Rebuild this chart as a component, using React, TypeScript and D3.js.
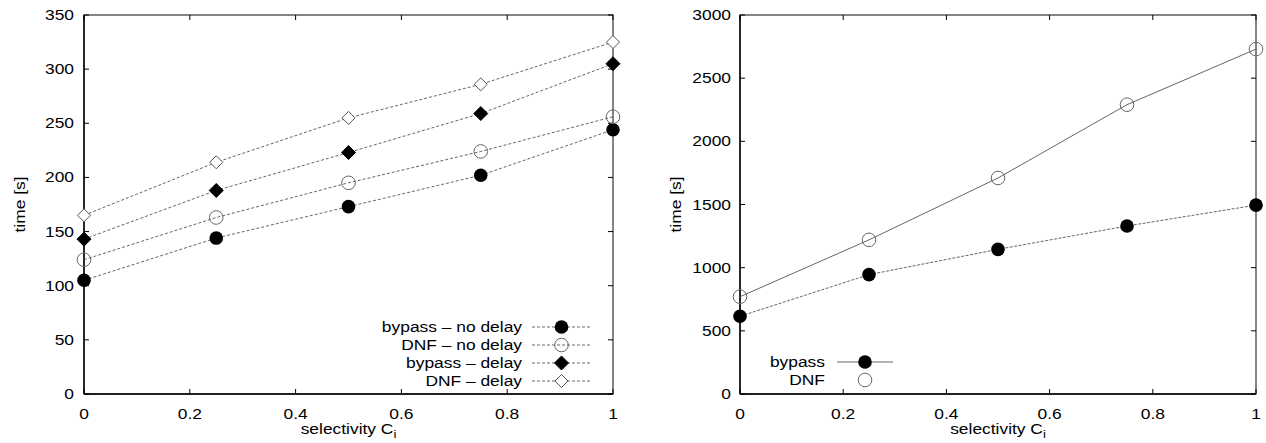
import React, { useRef, useEffect } from 'react';
import * as d3 from 'd3';

// x positions (selectivity)
const selectivity = [0, 0.25, 0.5, 0.75, 1];
const xTicks = [0, 0.2, 0.4, 0.6, 0.8, 1];

// left chart series
const bypassNoDelay = [105, 144, 173, 202, 244];
const dnfNoDelay = [124, 163, 195, 224, 256];
const bypassDelay = [143, 188, 223, 259, 305];
const dnfDelay = [165, 214, 255, 286, 325];
const leftYTicks = [0, 50, 100, 150, 200, 250, 300, 350];

// right chart series
const bypassRight = [615, 945, 1145, 1330, 1495];
const dnfRight = [770, 1220, 1710, 2290, 2730];
const rightYTicks = [0, 500, 1000, 1500, 2000, 2500, 3000];

const W = 1266;
const H = 443;
const FONT = '"Liberation Sans", Arial, sans-serif';
const FS = 14.5;
const STRETCH = 1.2; // the reference font is wide

type Marker = 'filledCircle' | 'openCircle' | 'filledDiamond' | 'openDiamond';

function drawMarker(g: any, kind: Marker, x: number, y: number) {
  if (kind === 'filledCircle') {
    g.append('circle').attr('cx', x).attr('cy', y).attr('r', 6.8).attr('fill', '#000');
  } else if (kind === 'openCircle') {
    g.append('circle').attr('cx', x).attr('cy', y).attr('r', 6.8)
      .attr('fill', 'none').attr('stroke', '#666').attr('stroke-width', 1);
  } else {
    const s = kind === 'filledDiamond' ? 7 : 6.5;
    g.append('path')
      .attr('d', `M${x},${y - s}L${x + s},${y}L${x},${y + s}L${x - s},${y}Z`)
      .attr('fill', kind === 'filledDiamond' ? '#000' : '#fff')
      .attr('stroke', kind === 'filledDiamond' ? '#000' : '#555')
      .attr('stroke-width', 1);
  }
}

// text with a little horizontal stretch
function label(g: any, x: number, y: number, anchor: string, txt: string, rotate = 0) {
  return g.append('text')
    .attr('transform', `translate(${x},${y}) rotate(${rotate}) scale(${STRETCH},1)`)
    .attr('text-anchor', anchor)
    .attr('font-family', FONT).attr('font-size', FS).attr('fill', '#000')
    .text(txt);
}

const App = () => {
  const ref = useRef<SVGSVGElement>(null);

  useEffect(() => {
    const svg = d3.select(ref.current);
    svg.selectAll('*').remove();

    const panel = (
      left: number, right: number, yMax: number, yTicks: number[],
      series: { name: string; values: number[]; marker: Marker; dash: string | null; legendDash: string | null }[],
      legend: { rightX: number; lineX0: number; lineX1: number; y0: number; lines: boolean[] },
      labelX: number
    ) => {
      const top = 15;
      const bottom = 394;
      const x = d3.scaleLinear().domain([0, 1]).range([left, right]);
      const y = d3.scaleLinear().domain([0, yMax]).range([bottom, top]);
      const g = svg.append('g');

      // frame
      g.append('rect').attr('x', left).attr('y', top)
        .attr('width', right - left).attr('height', bottom - top)
        .attr('fill', 'none').attr('stroke', '#333').attr('stroke-width', 1.2);
      g.append('line').attr('x1', left).attr('x2', left).attr('y1', top).attr('y2', bottom)
        .attr('stroke', '#000').attr('stroke-width', 1.4);
      g.append('line').attr('x1', left).attr('x2', right).attr('y1', bottom).attr('y2', bottom)
        .attr('stroke', '#000').attr('stroke-width', 1.4);

      // ticks (mirrored, inward)
      const tl = 5;
      xTicks.forEach(t => {
        const px = x(t);
        g.append('line').attr('x1', px).attr('x2', px).attr('y1', bottom).attr('y2', bottom - tl).attr('stroke', '#000');
        g.append('line').attr('x1', px).attr('x2', px).attr('y1', top).attr('y2', top + tl).attr('stroke', '#000');
        label(g, px, 419, 'middle', String(t));
      });
      yTicks.forEach(t => {
        const py = y(t);
        g.append('line').attr('x1', left).attr('x2', left + tl).attr('y1', py).attr('y2', py).attr('stroke', '#000');
        g.append('line').attr('x1', right).attr('x2', right - tl).attr('y1', py).attr('y2', py).attr('stroke', '#000');
        label(g, labelX, py + 5, 'end', String(t));
      });

      // axis titles
      const xt = label(g, (left + right) / 2, 434, 'middle', '');
      xt.append('tspan').text('selectivity C');
      xt.append('tspan').attr('font-size', 11).attr('dy', 4).text('i');
      label(g, left - 59, (top + bottom) / 2, 'middle', 'time [s]', -90);

      // series
      const line = d3.line<number>().x((_, i) => x(selectivity[i])).y(d => y(d));
      series.forEach(s => {
        g.append('path').attr('d', line(s.values)).attr('fill', 'none')
          .attr('stroke', '#555').attr('stroke-width', 0.9)
          .attr('stroke-dasharray', s.dash);
        s.values.forEach((v, i) => drawMarker(g, s.marker, x(selectivity[i]), y(v)));
      });

      // legend
      series.forEach((s, i) => {
        const ly = legend.y0 + i * 18;
        label(g, legend.rightX, ly + 5, 'end', s.name);
        if (legend.lines[i]) {
          g.append('line').attr('x1', legend.lineX0).attr('x2', legend.lineX1).attr('y1', ly).attr('y2', ly)
            .attr('stroke', '#555').attr('stroke-width', 0.9).attr('stroke-dasharray', s.legendDash);
        }
        drawMarker(g, s.marker, (legend.lineX0 + legend.lineX1) / 2, ly);
      });
    };

    panel(84, 613, 350, leftYTicks, [
      { name: 'bypass \u2013 no delay', values: bypassNoDelay, marker: 'filledCircle', dash: '3,2', legendDash: '3,2' },
      { name: 'DNF \u2013 no delay', values: dnfNoDelay, marker: 'openCircle', dash: '3,2', legendDash: '3,2' },
      { name: 'bypass \u2013 delay', values: bypassDelay, marker: 'filledDiamond', dash: '3,2', legendDash: '3,2' },
      { name: 'DNF \u2013 delay', values: dnfDelay, marker: 'openDiamond', dash: '3,2', legendDash: '3,2' },
    ], { rightX: 522, lineX0: 532, lineX1: 591, y0: 327, lines: [true, true, true, true] }, 74);

    panel(740, 1256, 3000, rightYTicks, [
      { name: 'bypass', values: bypassRight, marker: 'filledCircle', dash: '3,1.5', legendDash: null },
      { name: 'DNF', values: dnfRight, marker: 'openCircle', dash: null, legendDash: null },
    ], { rightX: 825, lineX0: 837, lineX1: 893, y0: 362, lines: [true, false] }, 731);
  }, []);

  return <svg ref={ref} width={W} height={H} style={{ display: 'block', position: 'absolute', left: 0, top: 0, background: '#fff' }} />;
};

export default App;
